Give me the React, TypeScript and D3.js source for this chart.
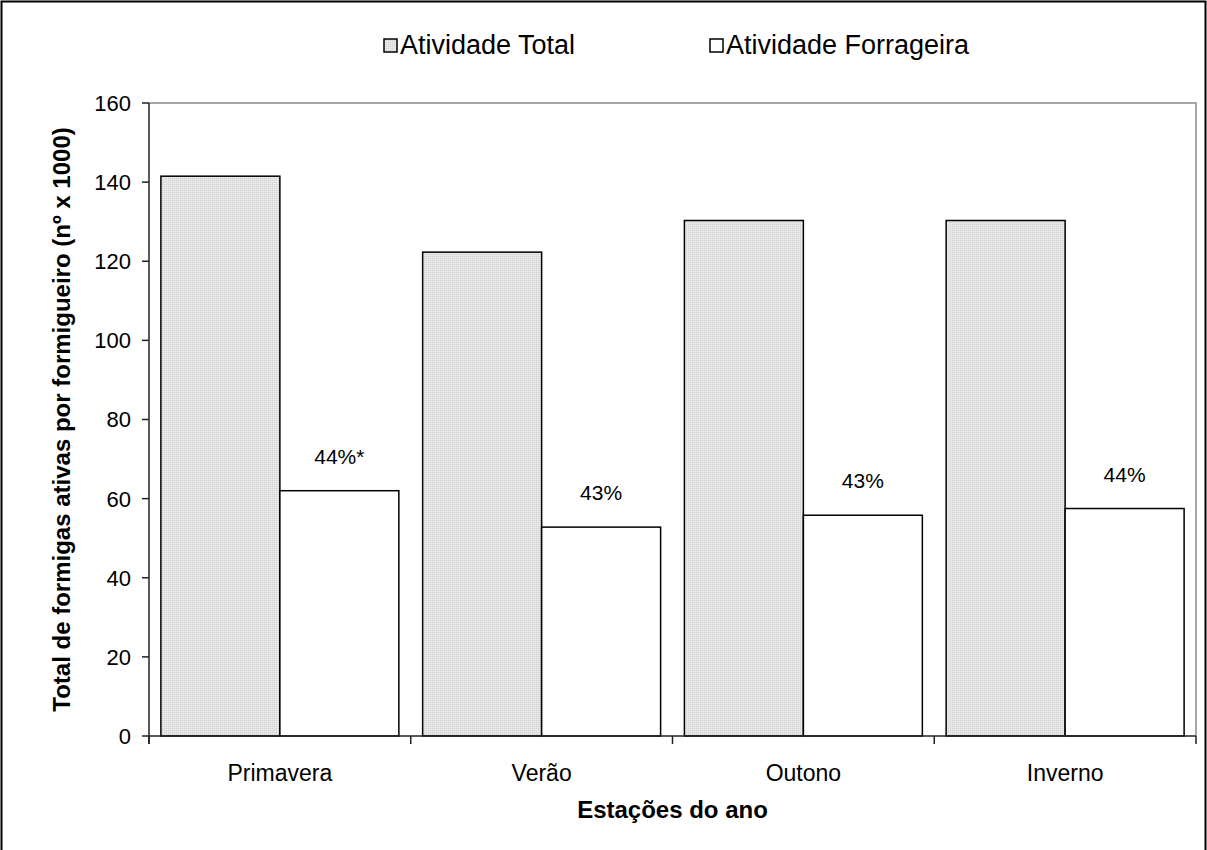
import React from 'react';
import * as d3 from 'd3';

const seasons = ['Primavera', 'Verão', 'Outono', 'Inverno'];
const series = ['Atividade Total', 'Atividade Forrageira'];
const totalActivity = [141.5, 122.3, 130.3, 130.3];
const foragingActivity = [62.0, 52.8, 55.8, 57.5];
const foragingLabels = ['44%*', '43%', '43%', '44%'];
const yTicks = [0, 20, 40, 60, 80, 100, 120, 140, 160];

const W = 1207;
const H = 850;
const margin = { left: 149, right: 11, top: 103, bottom: 114 };
const FONT = '"Liberation Sans", Arial, sans-serif';

export default function App() {
  const x0 = d3.scaleBand<string>()
    .domain(seasons)
    .range([margin.left, W - margin.right])
    .padding(0);

  const x1 = d3.scaleBand<string>()
    .domain(series)
    .range([0, x0.bandwidth()])
    .paddingInner(0)
    .paddingOuter(0.1);

  const y = d3.scaleLinear()
    .domain([0, 160])
    .range([H - margin.bottom, margin.top]);

  const plotRight = W - margin.right;
  const y0 = y(0);

  // boundaries between categories for the x ticks
  const xTickPos = seasons.map(s => x0(s) || 0).concat([plotRight]);

  return (
    <svg width={W} height={H} style={{ position: 'absolute', left: 0, top: 0, background: '#fff' }}>
      <defs>
        <pattern id="dots" width="2" height="2" patternUnits="userSpaceOnUse">
          <rect width="2" height="2" fill="#e8e8e8" />
          <rect width="1" height="1" fill="#cfcfcf" />
        </pattern>
      </defs>

      {/* outer chart border */}
      <rect x={1.5} y={1.5} width={1204} height={900} fill="none" stroke="#000" strokeWidth={2} />

      {/* plot frame, top and right in grey */}
      <path
        d={`M${margin.left},${y(160)}H${plotRight}V${y0}`}
        fill="none"
        stroke="#8a8a8a"
        strokeWidth={1.5}
      />

      {/* bars */}
      {seasons.map((s, i) => {
        const gx = x0(s) || 0;
        const vals = [totalActivity[i], foragingActivity[i]];
        return (
          <g key={s}>
            {series.map((ser, j) => (
              <rect
                key={ser}
                x={gx + (x1(ser) || 0)}
                y={y(vals[j])}
                width={x1.bandwidth()}
                height={y0 - y(vals[j])}
                fill={j === 0 ? 'url(#dots)' : '#fff'}
                stroke="#000"
                strokeWidth={1.5}
              />
            ))}
            <text
              x={gx + (x1(series[1]) || 0) + x1.bandwidth() / 2}
              y={y(foragingActivity[i]) - 27}
              textAnchor="middle"
              fontFamily={FONT}
              fontSize={21}
              fill="#000"
            >
              {foragingLabels[i]}
            </text>
          </g>
        );
      })}

      {/* y axis */}
      <line x1={margin.left} x2={margin.left} y1={y(160)} y2={y0 + 8} stroke="#222" strokeWidth={1.5} />
      {yTicks.map(t => (
        <g key={t}>
          <line x1={margin.left - 7} x2={margin.left} y1={y(t)} y2={y(t)} stroke="#222" strokeWidth={1.5} />
          <text
            x={margin.left - 18}
            y={y(t)}
            dy="0.36em"
            textAnchor="end"
            fontFamily={FONT}
            fontSize={22}
            fill="#000"
          >
            {t}
          </text>
        </g>
      ))}

      {/* x axis */}
      <line x1={margin.left} x2={plotRight} y1={y0} y2={y0} stroke="#222" strokeWidth={1.5} />
      {xTickPos.map((p, i) => (
        <line key={i} x1={p} x2={p} y1={y0} y2={y0 + 8} stroke="#222" strokeWidth={1.5} />
      ))}
      {seasons.map(s => (
        <text
          key={s}
          x={(x0(s) || 0) + x0.bandwidth() / 2}
          y={781}
          textAnchor="middle"
          fontFamily={FONT}
          fontSize={23}
          fill="#000"
        >
          {s}
        </text>
      ))}

      {/* axis titles */}
      <text
        x={(margin.left + plotRight) / 2}
        y={818}
        textAnchor="middle"
        fontFamily={FONT}
        fontSize={24}
        fontWeight="bold"
        fill="#000"
      >
        Estações do ano
      </text>
      <text
        transform={`translate(70,${(y(160) + y0) / 2}) rotate(-90)`}
        textAnchor="middle"
        fontFamily={FONT}
        fontSize={24}
        fontWeight="bold"
        fill="#000"
      >
        Total de formigas ativas por formigueiro (nº x 1000)
      </text>

      {/* legend */}
      <rect x={384} y={39} width={13} height={13} fill="url(#dots)" stroke="#000" strokeWidth={1.5} />
      <text x={400} y={54} fontFamily={FONT} fontSize={27} fill="#000">{series[0]}</text>
      <rect x={710} y={39} width={13} height={13} fill="#fff" stroke="#000" strokeWidth={1.5} />
      <text x={726} y={54} fontFamily={FONT} fontSize={27} fill="#000">{series[1]}</text>
    </svg>
  );
}
